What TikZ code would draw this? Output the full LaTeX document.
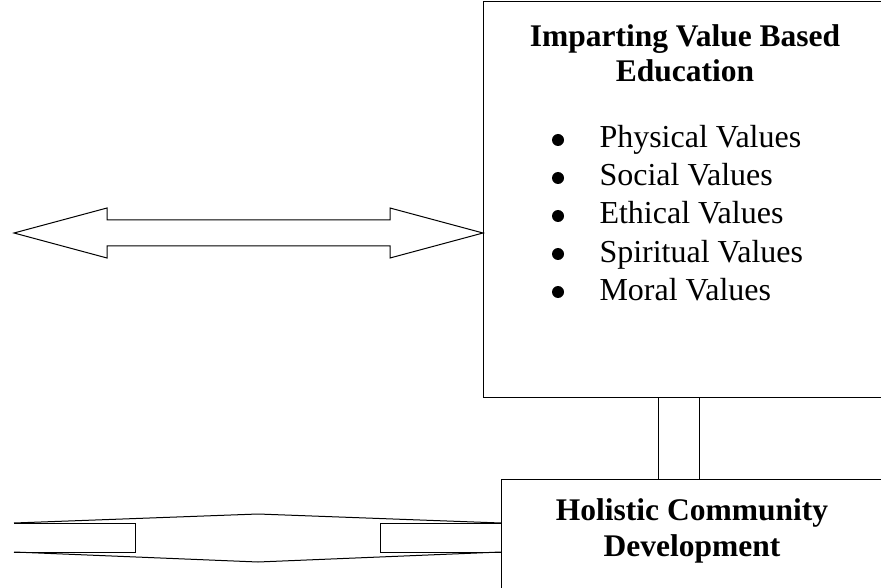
\documentclass[tikz,border=0pt]{standalone}
\usepackage{fontspec}
\setmainfont{Liberation Serif}
\usetikzlibrary{positioning}

\begin{document}
\begin{tikzpicture}[x=1pt,y=-1pt,line width=1pt,
        box/.style={draw,anchor=north west,inner sep=0pt},
        head/.style={font=\fontsize{31.5}{35}\selectfont\bfseries,anchor=base,inner sep=0pt},
        item/.style={font=\fontsize{32}{38}\selectfont,anchor=base west,inner sep=0pt},
        dot/.style={circle,fill,inner sep=0pt,minimum size=12pt}]
        \useasboundingbox (0,0) rectangle (881,588);
        \clip (0,0) rectangle (881,588);
        \node (edu) [box, minimum width=402pt, minimum height=396pt] at (483,1) {};
        \node (hol) [box, minimum width=400pt, minimum height=140pt] at (501,479) {};
        \node (link) [draw, inner sep=0pt, minimum width=41pt, minimum height=82pt, anchor=north] at (678.5,397) {};
        % headings
        \node (h1) [head] at (685,47) {Imparting Value Based};
        \node (h2) [head] at (685,82) {Education};
        \node (h3) [head] at (692,520) {Holistic Community};
        \node (h4) [head] at (692,556) {Development};
        % list of values
        \foreach \v [count=\i] in {Physical,Social,Ethical,Spiritual,Moral} {
            \node (b\i) [dot] at (558,{140+38*(\i-1)}) {};
            \node (v\i) [item] at (599,{148+38*(\i-1)}) {\v{} Values};
        }
        % block arrows
        \draw (14,233) -- (107,208) -- (107,220) -- (390,220) -- (390,208) -- (483,233)
            -- (390,258) -- (390,246) -- (107,246) -- (107,258) -- cycle;
        \draw (14,523) -- (258,514) -- (501,523);
        \draw (14,552) -- (258,562) -- (501,552);
        \draw (14,523) -- (135,523) -- (135,552) -- (14,552);
        \draw (501,523) -- (380,523) -- (380,552) -- (501,552);
    \end{tikzpicture}
\end{document}
